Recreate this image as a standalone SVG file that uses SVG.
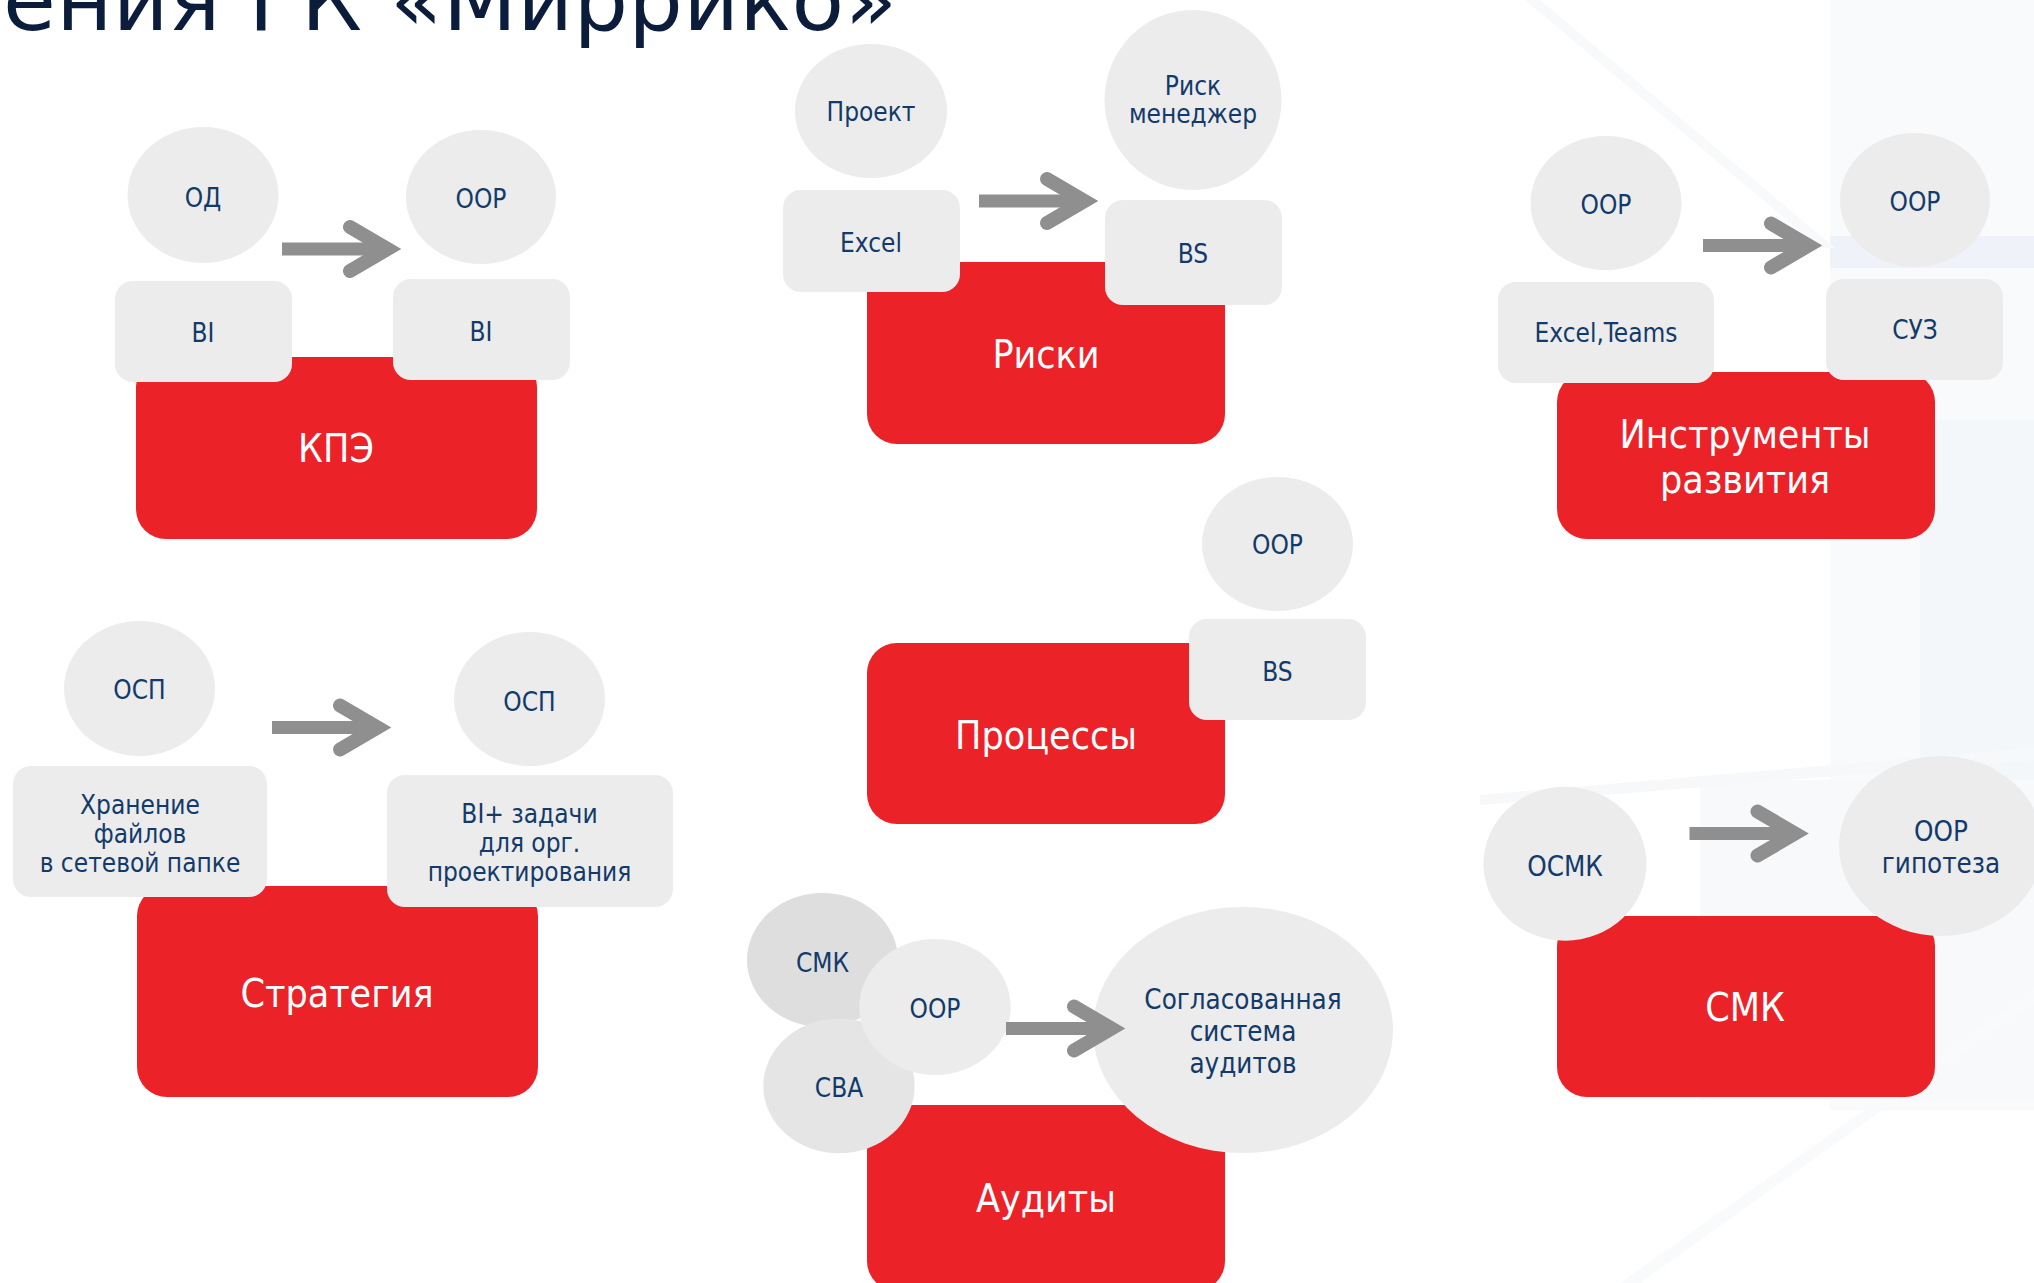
<svg xmlns="http://www.w3.org/2000/svg" width="2034" height="1283" viewBox="0 0 2034 1283">
<style>
.red{fill:#ec2229}
.g{fill:#ececec}
.lbl{font-family:'DejaVu Sans Condensed','DejaVu Sans',sans-serif;font-size:26px;fill:#123a6b;text-anchor:middle}
.lbl2{font-family:'DejaVu Sans Condensed','DejaVu Sans',sans-serif;font-size:27.5px;fill:#123a6b;text-anchor:middle}
.big{font-family:'DejaVu Sans Condensed','DejaVu Sans',sans-serif;font-size:39px;fill:#ffffff;text-anchor:middle}
.title{font-family:'DejaVu Sans',sans-serif;font-size:86px;fill:#0c1c3b}
.chev{fill:none;stroke:#8f8f8f;stroke-width:14;stroke-linecap:round;stroke-linejoin:miter;stroke-miterlimit:10}
.shaft{fill:#8f8f8f}
</style>
<defs>
<g id="arrow">
<rect class="shaft" x="-120" y="-6.5" width="106" height="13"/>
<polyline class="chev" points="-52,-22 -14.5,0 -52,22"/>
</g>
</defs>
<rect x="0" y="0" width="2034" height="1283" fill="#ffffff"/>
<g id="background">
<rect x="1830" y="0" width="204" height="1110" fill="#f8fafc"/>
<rect x="1830" y="236" width="204" height="32" fill="#eff3f9"/>
<rect x="1920" y="420" width="114" height="680" fill="#f4f7fa"/>
<polygon points="1525,0 1540,0 1835,248 1820,248" fill="#f8f9fb"/>
<rect x="1700" y="780" width="334" height="320" fill="#f7f9fb"/>
<polygon points="1480,795 2034,748 2034,760 1480,805" fill="#f7f8fa"/>
<polygon points="1620,1283 2034,990 2034,1002 1640,1283" fill="#f9fafb"/>
</g>
<text class="title" x="3" y="30" textLength="894" lengthAdjust="spacing">ения ГК «Миррико»</text>

<g id="kpe"><rect class="red" x="136" y="357" width="401" height="182" rx="30"/><text class="big" x="336" y="462">КПЭ</text></g>
<g id="kpe-od"><ellipse class="g" cx="203" cy="195" rx="75.5" ry="68"/><text class="lbl" x="203" y="207">ОД</text></g>
<g id="kpe-oor"><ellipse class="g" cx="481" cy="197" rx="75" ry="67"/><text class="lbl" x="481" y="208">ООР</text></g>
<g id="kpe-bi1"><rect class="g" x="115" y="281" width="177" height="101" rx="18"/><text class="lbl" x="203" y="342">BI</text></g>
<g id="kpe-bi2"><rect class="g" x="393" y="279" width="177" height="101" rx="18"/><text class="lbl" x="481" y="341">BI</text></g>

<g id="riski"><rect class="red" x="867" y="262" width="358" height="182" rx="30"/><text class="big" x="1046" y="368">Риски</text></g>
<g id="riski-proekt"><ellipse class="g" cx="871" cy="111" rx="76" ry="67"/><text class="lbl" x="871" y="121">Проект</text></g>
<g id="riski-excel"><rect class="g" x="783" y="190" width="177" height="102" rx="18"/><text class="lbl" x="871" y="252">Excel</text></g>
<g id="riski-manager"><ellipse class="g" cx="1193" cy="100" rx="88.5" ry="90"/><text class="lbl" x="1193" y="95">Риск</text><text class="lbl" x="1193" y="123">менеджер</text></g>
<g id="riski-bs"><rect class="g" x="1105" y="200" width="177" height="105" rx="18"/><text class="lbl" x="1193" y="263">BS</text></g>

<g id="instr"><rect class="red" x="1557" y="372" width="378" height="167" rx="30"/><text class="big" x="1745" y="448">Инструменты</text><text class="big" x="1745" y="493">развития</text></g>
<g id="instr-oor1"><ellipse class="g" cx="1606" cy="203" rx="75.5" ry="67"/><text class="lbl" x="1606" y="214">ООР</text></g>
<g id="instr-oor2"><ellipse class="g" cx="1915" cy="200" rx="75" ry="67"/><text class="lbl" x="1915" y="211">ООР</text></g>
<g id="instr-excel"><rect class="g" x="1498" y="282" width="216" height="101" rx="18"/><text class="lbl" x="1606" y="342">Excel,Teams</text></g>
<g id="instr-suz"><rect class="g" x="1826" y="279" width="177" height="101" rx="18"/><text class="lbl" x="1915" y="339">СУЗ</text></g>

<g id="process"><rect class="red" x="867" y="643" width="358" height="181" rx="30"/><text class="big" x="1046" y="749">Процессы</text></g>
<g id="process-oor"><ellipse class="g" cx="1277.5" cy="544" rx="75.5" ry="67"/><text class="lbl" x="1277.5" y="554">ООР</text></g>
<g id="process-bs"><rect class="g" x="1189" y="619" width="177" height="101" rx="18"/><text class="lbl" x="1277.5" y="681">BS</text></g>

<g id="strat"><rect class="red" x="137" y="886" width="401" height="211" rx="30"/><text class="big" x="337" y="1007">Стратегия</text></g>
<g id="strat-osp1"><ellipse class="g" cx="139.5" cy="688.5" rx="75.5" ry="67.5"/><text class="lbl" x="139.5" y="699">ОСП</text></g>
<g id="strat-osp2"><ellipse class="g" cx="529.5" cy="699" rx="75.5" ry="67"/><text class="lbl" x="529.5" y="711">ОСП</text></g>
<g id="strat-store"><rect class="g" x="13" y="766" width="254" height="131" rx="18"/><text class="lbl" x="140" y="814">Хранение</text><text class="lbl" x="140" y="843">файлов</text><text class="lbl" x="140" y="872">в сетевой папке</text></g>
<g id="strat-bi"><rect class="g" x="387" y="775" width="286" height="132" rx="18"/><text class="lbl" x="529.5" y="823">BI+ задачи</text><text class="lbl" x="529.5" y="852">для орг.</text><text class="lbl" x="529.5" y="881">проектирования</text></g>

<g id="audit"><rect class="red" x="867" y="1105" width="358" height="186" rx="30"/><text class="big" x="1046" y="1212">Аудиты</text></g>
<g id="audit-smk"><ellipse cx="822.5" cy="960" rx="75.5" ry="67" fill="#dedede"/><text class="lbl" x="822.5" y="972">СМК</text></g>
<g id="audit-sva"><ellipse cx="839" cy="1086" rx="75.7" ry="67.3" fill="#e5e5e5"/><text class="lbl" x="839" y="1097">СВА</text></g>
<g id="audit-oor"><ellipse class="g" cx="935" cy="1007" rx="75.7" ry="68"/><text class="lbl" x="935" y="1018">ООР</text></g>
<g id="audit-system"><ellipse class="g" cx="1243" cy="1030" rx="150" ry="123"/><text class="lbl2" x="1243" y="1009">Согласованная</text><text class="lbl2" x="1243" y="1041">система</text><text class="lbl2" x="1243" y="1073">аудитов</text></g>

<g id="smk"><rect class="red" x="1557" y="916" width="378" height="181" rx="30"/><text class="big" x="1745" y="1021">СМК</text></g>
<g id="smk-osmk"><ellipse class="g" cx="1565" cy="863.7" rx="81.5" ry="77"/><text class="lbl2" x="1565" y="876">ОСМК</text></g>
<g id="smk-oor"><ellipse class="g" cx="1941" cy="846" rx="102" ry="90"/><text class="lbl2" x="1941" y="841">ООР</text><text class="lbl2" x="1941" y="873">гипотеза</text></g>

<g id="connectors">
<use href="#arrow" x="402" y="249"/>
<use href="#arrow" x="1099" y="201"/>
<use href="#arrow" x="1823" y="245.5"/>
<use href="#arrow" x="392" y="727.5"/>
<use href="#arrow" x="1126" y="1028.5"/>
<use href="#arrow" x="1809.5" y="833.5"/>
</g>
</svg>
